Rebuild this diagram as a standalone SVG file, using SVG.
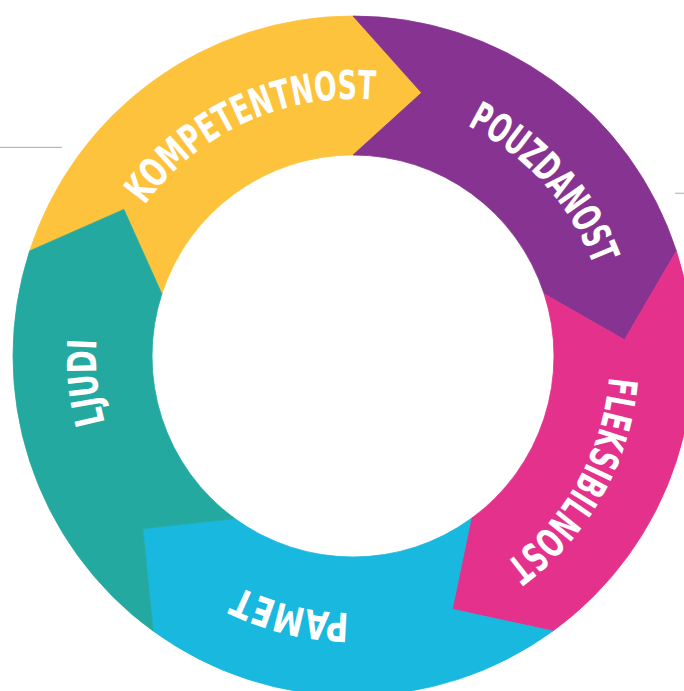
<svg xmlns="http://www.w3.org/2000/svg" xmlns:xlink="http://www.w3.org/1999/xlink" width="684" height="691" viewBox="0 0 684 691">
<style>
.seg{stroke-width:0.8;stroke-linejoin:miter}
.lbl{font-family:"Liberation Sans Narrow","DejaVu Sans Condensed","Liberation Sans",sans-serif;font-weight:700;font-size:40px;fill:#ffffff}
.rule{stroke:#b9b9b9;stroke-width:1.2;fill:none}
</style>
<defs>
<path id="a1" d="M97.14,331.81 A257,257 0 0 1 501.88,146.51"/>
<path id="a2" d="M299.13,104.71 A257,257 0 0 1 597.56,434.99"/>
<path id="a3" d="M573.75,224.41 A257,257 0 0 1 356.59,612.98"/>
<path id="a4" d="M539.11,533.23 A257,257 0 0 1 106.46,428.56"/>
<path id="a5" d="M247.24,590.23 A257,257 0 0 1 203.03,147.29"/>
</defs>
<rect width="684" height="691" fill="#ffffff"/>
<g id="decor">
<line class="rule" x1="0" y1="147.3" x2="62" y2="147.3"/>
<line class="rule" x1="675" y1="193.3" x2="684" y2="193.3"/>
</g>
<g id="connectors"></g>
<g id="kompetentnost">
<path class="seg" fill="#FEC33C" stroke="#FEC33C" d="M29.64,250.93 A340,340 0 0 1 353,16 L421.56,92.78 L353,155 A201,201 0 0 0 161.84,293.89 L123.85,209.45 Z"/>
<text class="lbl"><textPath xlink:href="#a1" href="#a1" startOffset="50%" text-anchor="middle" textLength="265" lengthAdjust="spacingAndGlyphs">KOMPETENTNOST</textPath></text>
</g>
<g id="pouzdanost">
<path class="seg" fill="#873391" stroke="#873391" d="M353,16 A340,340 0 0 1 676.36,250.93 L624.52,339.87 L544.16,293.89 A201,201 0 0 0 353,155 L421.56,92.78 Z"/>
<text class="lbl"><textPath xlink:href="#a2" href="#a2" startOffset="50%" text-anchor="middle" textLength="193" lengthAdjust="spacingAndGlyphs">POUZDANOST</textPath></text>
</g>
<g id="fleksibilnost">
<path class="seg" fill="#E4318C" stroke="#E4318C" d="M676.36,250.93 A340,340 0 0 1 552.85,631.07 L452.25,609.25 L471.14,518.61 A201,201 0 0 0 544.16,293.89 L624.52,339.87 Z"/>
<text class="lbl"><textPath xlink:href="#a3" href="#a3" startOffset="50%" text-anchor="middle" textLength="220" lengthAdjust="spacingAndGlyphs">FLEKSIBILNOST</textPath></text>
</g>
<g id="pamet">
<path class="seg" fill="#18B8DF" stroke="#18B8DF" d="M552.85,631.07 A340,340 0 0 1 153.15,631.07 L142.82,528.65 L234.86,518.61 A201,201 0 0 0 471.14,518.61 L452.25,609.25 Z"/>
<text class="lbl"><textPath xlink:href="#a4" href="#a4" startOffset="50%" text-anchor="middle" textLength="114" lengthAdjust="spacingAndGlyphs">PAMET</textPath></text>
</g>
<g id="ljudi">
<path class="seg" fill="#23A99F" stroke="#23A99F" d="M153.15,631.07 A340,340 0 0 1 29.64,250.93 L123.85,209.45 L161.84,293.89 A201,201 0 0 0 234.86,518.61 L142.82,528.65 Z"/>
<text class="lbl"><textPath xlink:href="#a5" href="#a5" startOffset="50%" text-anchor="middle" textLength="84" lengthAdjust="spacingAndGlyphs">LJUDI</textPath></text>
</g>
</svg>
